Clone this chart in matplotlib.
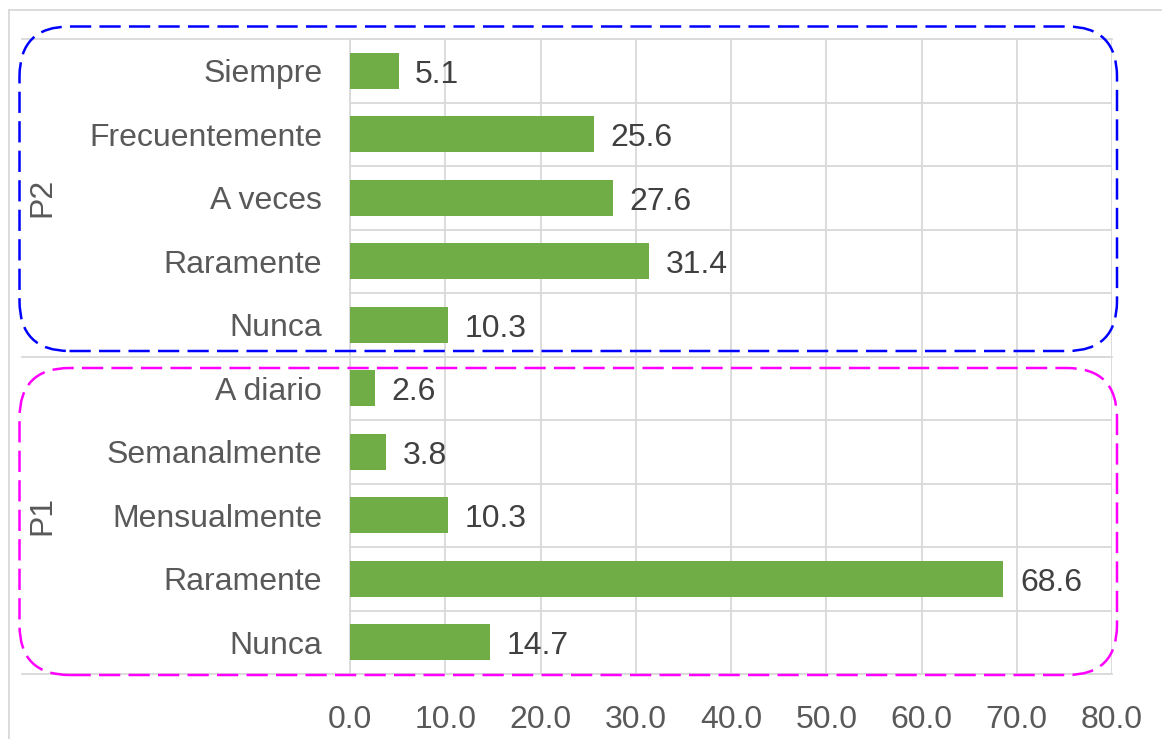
import matplotlib.pyplot as plt
import numpy as np
from matplotlib.patches import FancyBboxPatch
from matplotlib.lines import Line2D
import matplotlib.transforms as mtransforms

# ---------------------------------------------------------
# DATA
# ---------------------------------------------------------
groups = ["P2", "P1"]
p2_labels = ["Siempre", "Frecuentemente", "A veces", "Raramente", "Nunca"]
p2_values = [5.1, 25.6, 27.6, 31.4, 10.3]
p1_labels = ["A diario", "Semanalmente", "Mensualmente", "Raramente", "Nunca"]
p1_values = [2.6, 3.8, 10.3, 68.6, 14.7]
x_ticks = [0, 10, 20, 30, 40, 50, 60, 70, 80]

labels = p2_labels + p1_labels
values = p2_values + p1_values

# ---------------------------------------------------------
# STYLE
# ---------------------------------------------------------
plt.rcParams['font.family'] = ['Liberation Sans', 'DejaVu Sans']
BAR_COLOR = '#70AD47'
GRID_COLOR = '#D9D9D9'
LABEL_COLOR = '#595959'
VALUE_COLOR = '#404040'
FS = 23

W, H = 1162, 739
fig = plt.figure(figsize=(W / 100, H / 100), dpi=100)
fig.patch.set_facecolor('white')

# plot area in pixels: x 350..1112, y 39..674
left, right, top, bottom = 350, 1112, 39, 674
ax = fig.add_axes([left / W, 1 - bottom / H, (right - left) / W, (bottom - top) / H])

y = np.arange(len(values))
ax.barh(y, values, height=0.56, color=BAR_COLOR, zorder=3)

for yi, v in zip(y, values):
    ax.annotate(f"{v:.1f}", (v, yi), xytext=(12, -0.5), textcoords='offset points',
                va='center_baseline', ha='left', fontsize=FS, color=VALUE_COLOR)

ax.set_xlim(0, 80)
ax.set_ylim(len(values) - 0.5, -0.5)
ax.set_xticks(x_ticks)
ax.set_xticklabels([f"{t:.1f}" for t in x_ticks], fontsize=FS, color=LABEL_COLOR)
ax.set_yticks(y)
ax.set_yticklabels(labels, fontsize=FS, color=LABEL_COLOR)
ax.set_yticks(np.arange(-0.5, len(values) + 0.5, 1), minor=True)
ax.tick_params(axis='y', which='both', length=0, pad=20)
ax.tick_params(axis='x', length=0, pad=22)

ax.grid(axis='x', color=GRID_COLOR, linewidth=1.3, zorder=0)
ax.grid(axis='y', which='minor', color=GRID_COLOR, linewidth=1.3, zorder=0)
for s in ['top', 'right', 'bottom']:
    ax.spines[s].set_visible(False)
ax.spines['left'].set_color(GRID_COLOR)
ax.spines['left'].set_linewidth(1.3)

# group separator lines extending into the label area
blend = mtransforms.blended_transform_factory(ax.transAxes, ax.transData)
x_ext = (22 - left) / (right - left)
n1 = len(p2_labels)
for yb in [-0.5, n1 - 0.5, len(values) - 0.5]:
    ax.plot([x_ext, 1], [yb, yb], transform=blend, color=GRID_COLOR,
            linewidth=1.3, clip_on=False, zorder=1)

# group labels
centers = [(n1 - 1) / 2, n1 + (len(p1_labels) - 1) / 2]
for g, c in zip(groups, centers):
    ax.text((42 - left) / (right - left), c, g, transform=blend, rotation=90,
            ha='center', va='center', fontsize=FS, color=LABEL_COLOR)

# outer chart border (top and left visible)
fig.add_artist(Line2D([8.5 / W, 8.5 / W], [0, 1 - 9.5 / H], transform=fig.transFigure,
                      color=GRID_COLOR, linewidth=1.3))
fig.add_artist(Line2D([8.5 / W, 1], [1 - 9.5 / H, 1 - 9.5 / H], transform=fig.transFigure,
                      color=GRID_COLOR, linewidth=1.3))

# dashed rounded boxes (in inches so corners stay circular)
boxes = [(19.5, 26.5, 1117, 351, '#0000FF'), (19.5, 368, 1117, 675, '#FF00FF')]
for x0, y0, x1, y1, col in boxes:
    patch = FancyBboxPatch(((x0) / 100, (H - y1) / 100), (x1 - x0) / 100, (y1 - y0) / 100,
                           boxstyle="round,pad=0,rounding_size=0.5",
                           transform=fig.dpi_scale_trans, fill=False, edgecolor=col,
                           linewidth=1.8, linestyle=(0, (8.5, 3.3)), zorder=10)
    fig.add_artist(patch)

fig.savefig('out.png', dpi=100)
